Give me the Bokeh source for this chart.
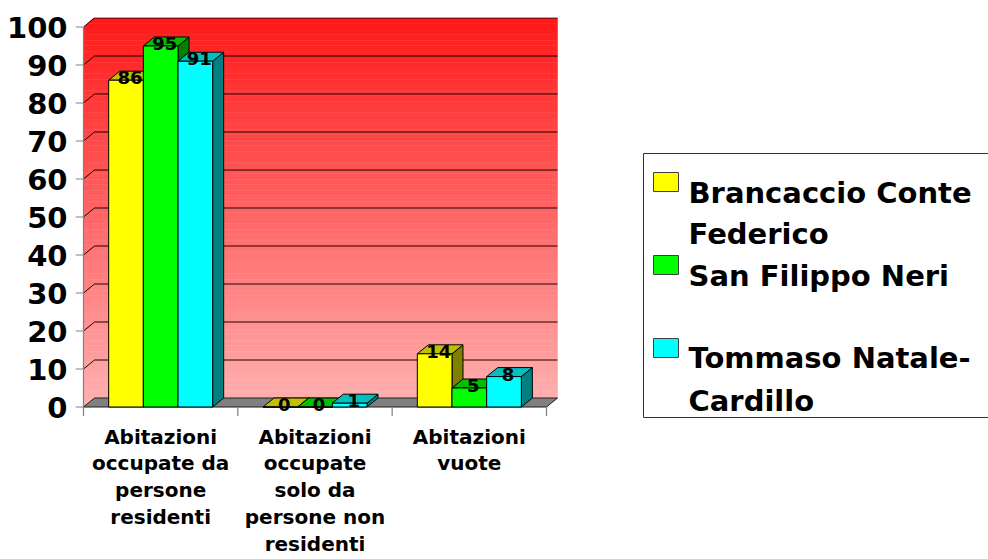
from bokeh.plotting import figure
from bokeh.models import Range1d, FixedTicker
from bokeh.core.properties import value
from bokeh.embed import file_html
from bokeh.resources import INLINE

# ---------------- data ----------------
CATEGORIES = ["Abitazioni occupate da persone residenti",
              "Abitazioni occupate solo da persone non residenti",
              "Abitazioni vuote"]
CATEGORY_LABELS = ["Abitazioni\noccupate da\npersone\nresidenti",
                   "Abitazioni\noccupate\nsolo da\npersone non\nresidenti",
                   "Abitazioni\nvuote"]
SERIES = ["Brancaccio Conte Federico", "San Filippo Neri", "Tommaso Natale-Cardillo"]
LEGEND_LINES = [["Brancaccio Conte", "Federico"], ["San Filippo Neri"], ["Tommaso Natale-", "Cardillo"]]
BRANCACCIO = [86, 0, 14]
SAN_FILIPPO = [95, 0, 5]
TOMMASO = [91, 1, 8]
VALUES = [BRANCACCIO, SAN_FILIPPO, TOMMASO]
Y_TICKS = [0, 10, 20, 30, 40, 50, 60, 70, 80, 90, 100]

# ---------------- style ----------------
FRONT = ["#FFFF00", "#00FF00", "#00FFFF"]
TOP = ["#C0C000", "#00C000", "#00C0C0"]
SIDE = ["#808000", "#008000", "#008080"]
FONT = "DejaVu Sans"

# pixel geometry (figure coordinates)
W, H = 988, 559
X0, SX = 83.0, 154.33      # x=0 at px 83, px per category
Y0, SY = 406.5, 3.8        # y=0 at px 406.5, px per unit
FRAME_L, FRAME_R, FRAME_T, FRAME_B = 75, W, 17, 418
DDX = 11 / SX              # 3D depth offsets
DDY = 9 / SY
BAR_W = 34.67 / SX
GROUP_OFF = (1 - 3 * BAR_W) / 2


def dx(px):
    return (px - X0) / SX


def dy(py):
    return (Y0 - py) / SY


p = figure(width=W, height=H,
           x_range=Range1d(dx(FRAME_L), dx(FRAME_R)),
           y_range=Range1d(dy(FRAME_B), dy(FRAME_T)),
           output_backend="svg", toolbar_location=None,
           min_border_left=FRAME_L, min_border_right=W - FRAME_R,
           min_border_top=FRAME_T, min_border_bottom=H - FRAME_B)
p.outline_line_color = None
p.grid.grid_line_color = None
p.background_fill_color = "white"
p.border_fill_color = "white"

NCAT = len(CATEGORIES)

# back / side wall with vertical gradient
N = 70
top_c = (255, 24, 24)
bot_c = (255, 178, 178)
wl, wr, wb, wt, wc = [], [], [], [], []
ymax = 100 + DDY
for k in range(N):
    b = ymax * k / N
    t = ymax * (k + 1) / N
    f = (k + 0.5) / N
    c = tuple(int(round(bot_c[m] + (top_c[m] - bot_c[m]) * f)) for m in range(3))
    wl.append(0); wr.append(NCAT + DDX); wb.append(b); wt.append(t)
    wc.append("#%02x%02x%02x" % c)
p.quad(left=wl, right=wr, bottom=wb, top=wt, fill_color=wc, line_color=wc, line_width=0.5)
# cut corners
p.patch([0, 0, DDX, 0], [100, ymax + 0.5, ymax + 0.5, 100], fill_color="white", line_color="white")
p.patch([NCAT, NCAT + DDX + 0.01, NCAT + DDX + 0.01], [0, 0, DDY], fill_color="white", line_color="white")

# gridlines
gx = [[0, DDX, NCAT + DDX] for v in Y_TICKS[1:]]
gy = [[v, v + DDY, v + DDY] for v in Y_TICKS[1:]]
p.multi_line(gx, gy, line_color="#1a0000", line_width=1)

# floor
p.patch([0, NCAT, NCAT + DDX, DDX], [0, 0, DDY, DDY], fill_color="#808080", line_color="#202020", line_width=1)

# axis lines and ticks
p.segment(x0=[0], y0=[0], x1=[0], y1=[100], line_color="#808080", line_width=1.2)
p.segment(x0=[dx(75)] * len(Y_TICKS), y0=Y_TICKS, x1=[0] * len(Y_TICKS), y1=Y_TICKS,
          line_color="#808080", line_width=1.2)
xt = list(range(NCAT + 1))
p.segment(x0=xt, y0=[0] * len(xt), x1=xt, y1=[-9 / SY] * len(xt), line_color="#808080", line_width=1.2)

# bars (side, top, front per series)
for j, vals in enumerate(VALUES):
    lefts = [i + GROUP_OFF + j * BAR_W for i in range(NCAT)]
    rights = [l + BAR_W for l in lefts]
    sxs = [[r, r + DDX, r + DDX, r] for r in rights]
    sys_ = [[0, DDY, v + DDY, v] for v in vals]
    p.patches(sxs, sys_, fill_color=SIDE[j], line_color="black", line_width=1)
    txs = [[l, l + DDX, r + DDX, r] for l, r in zip(lefts, rights)]
    tys = [[v, v + DDY, v + DDY, v] for v in vals]
    p.patches(txs, tys, fill_color=TOP[j], line_color="black", line_width=1)
    p.quad(left=lefts, right=rights, bottom=[0] * NCAT, top=vals,
           fill_color=FRONT[j], line_color="black", line_width=1)
    p.text(x=[l + BAR_W / 2 + 4 / SX for l in lefts], y=[v + 2.5 / SY for v in vals],
           text=[str(v) for v in vals], text_align="center", text_baseline="alphabetic",
           text_font=value(FONT), text_font_style="bold", text_font_size="18px",
           text_color="black")

# legend (drawn in frame space, outside the plot walls)
p.quad(left=[dx(643)], right=[dx(1000)], top=[dy(153)], bottom=[dy(417)],
       fill_color="white", line_color="#303030", line_width=1)
sq_tops = [172, 255, 338]
p.quad(left=[dx(653)] * 3, right=[dx(678)] * 3, top=[dy(t) for t in sq_tops],
       bottom=[dy(t + 19) for t in sq_tops], fill_color=FRONT, line_color="#404040", line_width=1)
baselines = [[192, 233], [275], [357, 400]]
lx, ly, lt = [], [], []
for lines, bls in zip(LEGEND_LINES, baselines):
    for s, b in zip(lines, bls):
        lx.append(dx(688)); ly.append(dy(b)); lt.append(s)
p.text(x=lx, y=ly, text=lt, text_align="left", text_baseline="alphabetic",
       text_font=value(FONT), text_font_style="bold", text_font_size="29px", text_color="black")

# axes
ya = p.yaxis[0]
ya.ticker = FixedTicker(ticks=Y_TICKS)
ya.axis_line_color = None
ya.major_tick_line_color = None
ya.minor_tick_line_color = None
ya.major_tick_out = 0
ya.major_tick_in = 0
ya.minor_tick_out = 0
ya.major_label_standoff = 8
ya.major_label_text_font = FONT
ya.major_label_text_font_style = "bold"
ya.major_label_text_font_size = "29px"
ya.major_label_text_color = "black"

xa = p.xaxis[0]
centers = [i + 0.5 for i in range(NCAT)]
xa.ticker = FixedTicker(ticks=centers)
xa.major_label_overrides = {c: lab for c, lab in zip(centers, CATEGORY_LABELS)}
xa.axis_line_color = None
xa.major_tick_line_color = None
xa.minor_tick_line_color = None
xa.major_tick_out = 0
xa.major_tick_in = 0
xa.minor_tick_out = 0
xa.major_label_standoff = 6
xa.major_label_text_font = FONT
xa.major_label_text_font_style = "bold"
xa.major_label_text_font_size = "20px"
xa.major_label_text_line_height = 1.12
xa.major_label_text_color = "black"

open("out.html", "w").write(file_html(p, INLINE))
